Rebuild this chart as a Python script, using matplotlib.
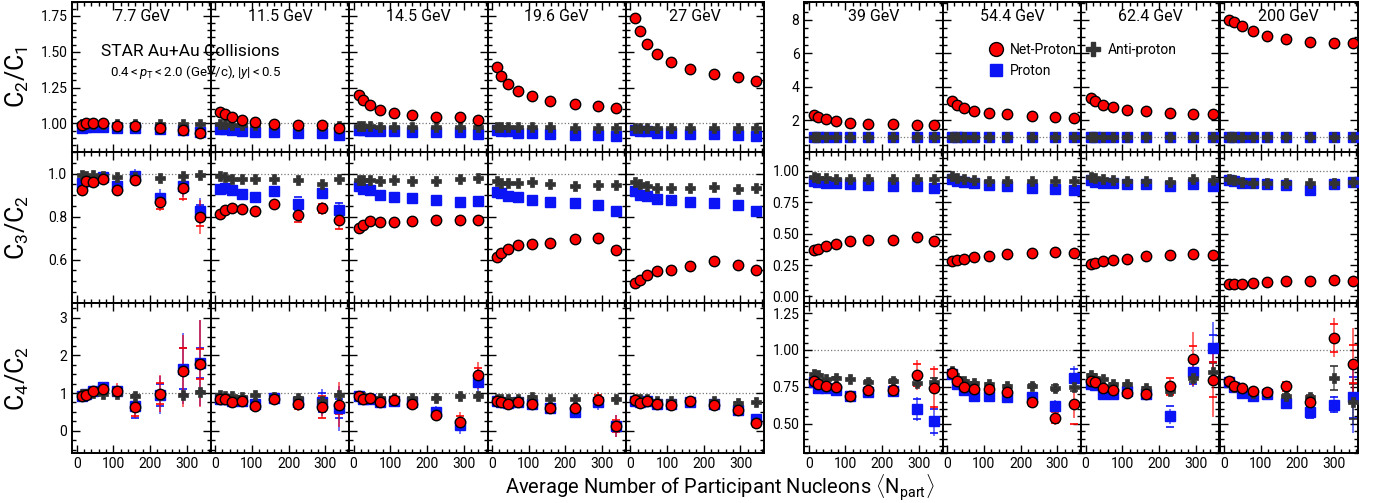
import matplotlib
matplotlib.use("Agg")
import matplotlib.pyplot as plt
from matplotlib.lines import Line2D
from matplotlib.ticker import MultipleLocator, FormatStrFormatter

plt.rcParams['font.family'] = ['Roboto', 'DejaVu Sans']
plt.rcParams['mathtext.fontset'] = 'custom'
plt.rcParams['mathtext.rm'] = 'Roboto'
plt.rcParams['mathtext.it'] = 'Roboto:italic'

ENERGIES = ["7.7 GeV", "11.5 GeV", "14.5 GeV", "19.6 GeV", "27 GeV",
            "39 GeV", "54.4 GeV", "62.4 GeV", "200 GeV"]

# <Npart>, peripheral -> central
NPART = [
    [14, 26, 45, 72, 110, 160, 226, 290, 337],
    [14, 26, 45, 73, 110, 160, 226, 291, 338],
    [14, 26, 46, 73, 110, 160, 225, 289, 340],
    [13, 25, 44, 71, 108, 158, 225, 289, 338],
    [14, 26, 45, 73, 111, 162, 229, 293, 343],
    [14, 26, 46, 74, 112, 162, 230, 294, 342],
    [14, 26, 46, 74, 113, 163, 230, 294, 346],
    [15, 27, 47, 76, 114, 164, 230, 294, 347],
    [15, 28, 49, 78, 117, 168, 234, 299, 351],
]

# C2/C1
C21_NET = [
    [0.99, 1.005, 1.0, 1.0, 0.98, 0.98, 0.97, 0.955, 0.935],
    [1.081, 1.063, 1.042, 1.023, 1.009, 0.995, 0.986, 0.986, 0.965],
    [1.197, 1.162, 1.127, 1.097, 1.074, 1.058, 1.046, 1.042, 1.023],
    [1.394, 1.329, 1.274, 1.227, 1.19, 1.157, 1.134, 1.123, 1.109],
    [1.735, 1.643, 1.557, 1.483, 1.427, 1.378, 1.345, 1.322, 1.299],
    [2.33, 2.19, 2.05, 1.95, 1.85, 1.79, 1.75, 1.71, 1.69],
    [3.18, 2.94, 2.74, 2.58, 2.45, 2.35, 2.25, 2.19, 2.15],
    [3.32, 3.14, 2.94, 2.78, 2.64, 2.54, 2.45, 2.39, 2.37],
    [7.99, 7.89, 7.63, 7.34, 7.04, 6.84, 6.70, 6.64, 6.64],
]
C21_PRO = [
    [0.965, 0.975, 0.975, 0.978, 0.968, 0.968, 0.962, 0.952, 0.94],
    [0.958, 0.958, 0.954, 0.95, 0.943, 0.94, 0.933, 0.933, 0.92],
    [0.955, 0.955, 0.95, 0.945, 0.945, 0.94, 0.94, 0.94, 0.925],
    [0.955, 0.95, 0.945, 0.935, 0.93, 0.925, 0.92, 0.92, 0.912],
    [0.955, 0.95, 0.945, 0.935, 0.933, 0.928, 0.924, 0.92, 0.912],
    [0.99, 0.99, 0.99, 0.985, 0.985, 0.985, 0.98, 0.98, 0.98],
    [0.99, 0.99, 0.985, 0.985, 0.98, 0.98, 0.98, 0.975, 0.975],
    [0.99, 0.99, 0.985, 0.985, 0.98, 0.98, 0.98, 0.975, 0.975],
    [0.99, 0.99, 0.985, 0.985, 0.98, 0.98, 0.98, 0.975, 0.975],
]
C21_ANTI = [
    [0.998, 0.998, 0.998, 0.998, 0.998, 0.997, 0.997, 0.997, 0.997],
    [0.995, 0.995, 0.99, 0.99, 0.99, 0.99, 0.985, 0.985, 0.98],
    [0.98, 0.98, 0.98, 0.978, 0.978, 0.978, 0.978, 0.978, 0.975],
    [0.975, 0.975, 0.975, 0.972, 0.972, 0.972, 0.97, 0.97, 0.97],
    [0.97, 0.97, 0.968, 0.968, 0.968, 0.968, 0.968, 0.968, 0.968],
    [0.995, 0.995, 0.994, 0.994, 0.994, 0.993, 0.993, 0.993, 0.993],
    [0.995, 0.995, 0.994, 0.994, 0.994, 0.993, 0.993, 0.993, 0.993],
    [0.995, 0.995, 0.994, 0.994, 0.994, 0.993, 0.993, 0.993, 0.993],
    [0.995, 0.995, 0.994, 0.994, 0.994, 0.993, 0.993, 0.993, 0.993],
]

# C3/C2
C32_NET = [
    [0.926, 0.964, 0.960, 0.977, 0.922, 0.972, 0.867, 0.933, 0.798],
    [0.814, 0.829, 0.839, 0.836, 0.825, 0.859, 0.806, 0.839, 0.783],
    [0.747, 0.763, 0.780, 0.774, 0.777, 0.778, 0.783, 0.783, 0.783],
    [0.611, 0.631, 0.650, 0.670, 0.673, 0.678, 0.696, 0.701, 0.643],
    [0.491, 0.504, 0.530, 0.546, 0.553, 0.572, 0.592, 0.577, 0.553],
    [0.368, 0.381, 0.40, 0.419, 0.44, 0.448, 0.453, 0.472, 0.445],
    [0.285, 0.288, 0.299, 0.312, 0.325, 0.339, 0.347, 0.355, 0.347],
    [0.259, 0.267, 0.28, 0.288, 0.299, 0.32, 0.328, 0.339, 0.328],
    [0.101, 0.101, 0.101, 0.107, 0.115, 0.125, 0.12, 0.128, 0.12],
]
C32_PRO = [
    [0.957, 0.964, 0.969, 0.984, 0.941, 0.99, 0.887, 0.941, 0.825],
    [0.93, 0.932, 0.926, 0.905, 0.89, 0.92, 0.86, 0.91, 0.83],
    [0.941, 0.930, 0.922, 0.902, 0.891, 0.885, 0.879, 0.867, 0.871],
    [0.915, 0.910, 0.898, 0.891, 0.879, 0.868, 0.864, 0.856, 0.825],
    [0.918, 0.902, 0.898, 0.884, 0.879, 0.868, 0.864, 0.853, 0.825],
    [0.92, 0.912, 0.907, 0.901, 0.899, 0.888, 0.88, 0.88, 0.861],
    [0.939, 0.92, 0.912, 0.901, 0.888, 0.88, 0.867, 0.853, 0.845],
    [0.925, 0.915, 0.907, 0.901, 0.893, 0.893, 0.88, 0.899, 0.88],
    [0.928, 0.92, 0.907, 0.901, 0.893, 0.888, 0.848, 0.893, 0.912],
]
C32_ANTI = [
    [0.995, 0.99, 0.995, 0.99, 0.985, 0.985, 0.978, 0.988, 0.995],
    [0.988, 0.983, 0.977, 0.977, 0.977, 0.975, 0.969, 0.953, 0.975],
    [0.969, 0.969, 0.969, 0.964, 0.969, 0.967, 0.964, 0.975, 0.980],
    [0.964, 0.957, 0.957, 0.957, 0.961, 0.952, 0.944, 0.949, 0.949],
    [0.960, 0.952, 0.941, 0.933, 0.933, 0.933, 0.936, 0.929, 0.933],
    [0.952, 0.947, 0.941, 0.933, 0.933, 0.933, 0.939, 0.939, 0.939],
    [0.96, 0.947, 0.933, 0.925, 0.92, 0.92, 0.92, 0.92, 0.92],
    [0.952, 0.941, 0.933, 0.928, 0.92, 0.92, 0.915, 0.933, 0.925],
    [0.933, 0.925, 0.915, 0.907, 0.907, 0.907, 0.907, 0.907, 0.915],
]
C32_NET_STAT = [
    [0.01, 0.01, 0.01, 0.01, 0.015, 0.02, 0.04, 0.06, 0.08],
    [0.005, 0.005, 0.005, 0.01, 0.01, 0.01, 0.02, 0.03, 0.04],
    [0.005, 0.005, 0.005, 0.005, 0.005, 0.005, 0.01, 0.015, 0.02],
    [0.005, 0.005, 0.005, 0.005, 0.005, 0.005, 0.005, 0.01, 0.015],
    [0.005, 0.005, 0.005, 0.005, 0.005, 0.005, 0.005, 0.005, 0.01],
    [0.005, 0.005, 0.005, 0.005, 0.005, 0.005, 0.005, 0.005, 0.01],
    [0.005, 0.005, 0.005, 0.005, 0.005, 0.005, 0.005, 0.005, 0.01],
    [0.005, 0.005, 0.005, 0.005, 0.005, 0.005, 0.005, 0.005, 0.01],
    [0.005, 0.005, 0.005, 0.005, 0.005, 0.005, 0.005, 0.005, 0.01],
]
C32_NET_SYS = [
    [0.01, 0.01, 0.01, 0.01, 0.01, 0.015, 0.03, 0.05, 0.04],
    [0.005, 0.005, 0.005, 0.005, 0.005, 0.01, 0.03, 0.02, 0.04],
    [0.005, 0.005, 0.005, 0.005, 0.005, 0.005, 0.01, 0.015, 0.01],
    [0.005, 0.005, 0.005, 0.005, 0.005, 0.005, 0.005, 0.01, 0.015],
    [0.005, 0.005, 0.005, 0.005, 0.005, 0.005, 0.005, 0.005, 0.01],
    [0.003, 0.003, 0.003, 0.003, 0.003, 0.003, 0.003, 0.003, 0.005],
    [0.003, 0.003, 0.003, 0.003, 0.003, 0.003, 0.003, 0.003, 0.005],
    [0.003, 0.003, 0.003, 0.003, 0.003, 0.003, 0.003, 0.003, 0.005],
    [0.003, 0.003, 0.003, 0.003, 0.003, 0.003, 0.003, 0.003, 0.005],
]
C32_PRO_STAT = [
    [0.01, 0.01, 0.01, 0.01, 0.015, 0.03, 0.04, 0.05, 0.06],
    [0.005, 0.005, 0.005, 0.01, 0.01, 0.01, 0.02, 0.03, 0.04],
    [0.005, 0.005, 0.005, 0.005, 0.005, 0.005, 0.01, 0.015, 0.02],
    [0.005, 0.005, 0.005, 0.005, 0.005, 0.005, 0.005, 0.01, 0.015],
    [0.005, 0.005, 0.005, 0.005, 0.005, 0.005, 0.005, 0.005, 0.01],
    [0.005, 0.005, 0.005, 0.005, 0.005, 0.005, 0.005, 0.005, 0.01],
    [0.005, 0.005, 0.005, 0.005, 0.005, 0.005, 0.005, 0.005, 0.01],
    [0.005, 0.005, 0.005, 0.005, 0.005, 0.005, 0.005, 0.005, 0.01],
    [0.005, 0.005, 0.005, 0.005, 0.005, 0.005, 0.01, 0.005, 0.01],
]
C32_PRO_SYS = [
    [0.01, 0.01, 0.01, 0.01, 0.01, 0.015, 0.02, 0.02, 0.03],
    [0.005, 0.005, 0.005, 0.005, 0.005, 0.01, 0.03, 0.02, 0.035],
    [0.005, 0.005, 0.005, 0.005, 0.005, 0.005, 0.01, 0.015, 0.01],
    [0.005, 0.005, 0.005, 0.005, 0.005, 0.005, 0.005, 0.01, 0.015],
    [0.005, 0.005, 0.005, 0.005, 0.005, 0.005, 0.005, 0.005, 0.01],
    [0.003, 0.003, 0.003, 0.003, 0.003, 0.003, 0.003, 0.003, 0.005],
    [0.003, 0.003, 0.003, 0.003, 0.003, 0.003, 0.003, 0.003, 0.005],
    [0.003, 0.003, 0.003, 0.003, 0.003, 0.003, 0.003, 0.003, 0.005],
    [0.003, 0.003, 0.003, 0.003, 0.003, 0.003, 0.01, 0.003, 0.005],
]

# C4/C2
C42_NET = [
    [0.916, 0.96, 1.048, 1.119, 1.057, 0.634, 0.987, 1.586, 1.78],
    [0.837, 0.855, 0.767, 0.793, 0.661, 0.855, 0.722, 0.634, 0.696],
    [0.925, 0.837, 0.872, 0.767, 0.811, 0.722, 0.414, 0.238, 1.471],
    [0.784, 0.767, 0.722, 0.767, 0.722, 0.59, 0.59, 0.828, 0.123],
    [0.811, 0.749, 0.784, 0.705, 0.678, 0.784, 0.696, 0.546, 0.194],
    [0.793, 0.769, 0.753, 0.748, 0.685, 0.726, 0.726, 0.831, 0.742],
    [0.847, 0.791, 0.748, 0.737, 0.733, 0.712, 0.647, 0.542, 0.636],
    [0.793, 0.78, 0.742, 0.73, 0.708, 0.699, 0.753, 0.939, 0.798],
    [0.791, 0.757, 0.742, 0.719, 0.717, 0.753, 0.645, 1.083, 0.906],
]
C42_PRO = [
    [0.92, 0.97, 1.05, 1.15, 1.05, 0.65, 0.95, 1.65, 1.80],
    [0.85, 0.85, 0.8, 0.8, 0.72, 0.88, 0.75, 0.75, 0.6],
    [0.93, 0.84, 0.85, 0.77, 0.78, 0.75, 0.5, 0.15, 1.3],
    [0.78, 0.77, 0.73, 0.76, 0.7, 0.6, 0.5, 0.75, 0.12],
    [0.8, 0.77, 0.78, 0.72, 0.7, 0.75, 0.72, 0.55, 0.3],
    [0.78, 0.74, 0.74, 0.73, 0.685, 0.715, 0.72, 0.60, 0.52],
    [0.84, 0.77, 0.73, 0.69, 0.69, 0.68, 0.68, 0.62, 0.81],
    [0.77, 0.76, 0.70, 0.70, 0.72, 0.70, 0.55, 0.85, 1.01],
    [0.78, 0.75, 0.71, 0.69, 0.70, 0.64, 0.58, 0.63, 0.68],
]
C42_ANTI = [
    [0.97, 0.98, 1.0, 0.98, 0.98, 0.93, 0.95, 0.95, 1.02],
    [0.95, 0.93, 0.92, 0.9, 0.95, 0.9, 0.88, 0.8, 0.95],
    [0.93, 0.9, 0.88, 0.88, 0.87, 0.87, 0.87, 0.93, 0.92],
    [0.85, 0.84, 0.85, 0.84, 0.9, 0.83, 0.83, 0.83, 0.84],
    [0.85, 0.85, 0.83, 0.8, 0.8, 0.8, 0.78, 0.73, 0.75],
    [0.835, 0.83, 0.80, 0.81, 0.80, 0.785, 0.79, 0.775, 0.78],
    [0.86, 0.81, 0.79, 0.775, 0.77, 0.755, 0.755, 0.74, 0.75],
    [0.83, 0.81, 0.80, 0.77, 0.77, 0.74, 0.72, 0.81, 0.85],
    [0.78, 0.75, 0.74, 0.71, 0.71, 0.69, 0.68, 0.81, 0.65],
]
C42_NET_STAT = [
    [0.05, 0.05, 0.06, 0.1, 0.2, 0.3, 0.5, 0.95, 1.15],
    [0.04, 0.04, 0.05, 0.06, 0.08, 0.15, 0.2, 0.3, 0.6],
    [0.03, 0.03, 0.04, 0.05, 0.06, 0.1, 0.15, 0.25, 0.35],
    [0.03, 0.03, 0.03, 0.04, 0.05, 0.07, 0.12, 0.2, 0.3],
    [0.02, 0.02, 0.03, 0.03, 0.04, 0.05, 0.07, 0.1, 0.15],
    [0.01, 0.01, 0.01, 0.015, 0.02, 0.03, 0.04, 0.1, 0.15],
    [0.01, 0.01, 0.01, 0.015, 0.02, 0.02, 0.03, 0.05, 0.1],
    [0.01, 0.01, 0.015, 0.02, 0.02, 0.03, 0.05, 0.18, 0.25],
    [0.01, 0.01, 0.01, 0.01, 0.015, 0.03, 0.04, 0.13, 0.24],
]
C42_NET_SYS = [
    [0.03, 0.03, 0.04, 0.06, 0.1, 0.25, 0.27, 0.6, 0.4],
    [0.02, 0.02, 0.03, 0.04, 0.05, 0.08, 0.15, 0.3, 0.25],
    [0.02, 0.02, 0.02, 0.03, 0.04, 0.06, 0.1, 0.15, 0.2],
    [0.02, 0.02, 0.02, 0.02, 0.03, 0.04, 0.06, 0.12, 0.15],
    [0.01, 0.01, 0.02, 0.02, 0.02, 0.03, 0.04, 0.06, 0.1],
    [0.005, 0.005, 0.01, 0.01, 0.015, 0.02, 0.03, 0.075, 0.13],
    [0.005, 0.005, 0.01, 0.01, 0.01, 0.015, 0.03, 0.04, 0.14],
    [0.005, 0.005, 0.01, 0.01, 0.02, 0.02, 0.06, 0.09, 0.12],
    [0.005, 0.005, 0.01, 0.01, 0.02, 0.03, 0.04, 0.095, 0.13],
]
C42_PRO_STAT = [
    [0.05, 0.05, 0.06, 0.15, 0.15, 0.3, 0.5, 0.95, 1.15],
    [0.04, 0.04, 0.05, 0.06, 0.08, 0.15, 0.2, 0.35, 0.6],
    [0.03, 0.03, 0.04, 0.05, 0.06, 0.1, 0.15, 0.25, 0.35],
    [0.03, 0.03, 0.03, 0.04, 0.05, 0.07, 0.12, 0.2, 0.3],
    [0.02, 0.02, 0.03, 0.03, 0.04, 0.05, 0.07, 0.1, 0.15],
    [0.01, 0.01, 0.01, 0.015, 0.02, 0.03, 0.04, 0.08, 0.1],
    [0.01, 0.01, 0.01, 0.015, 0.02, 0.02, 0.03, 0.04, 0.08],
    [0.01, 0.01, 0.015, 0.02, 0.02, 0.03, 0.05, 0.1, 0.18],
    [0.01, 0.01, 0.01, 0.01, 0.015, 0.03, 0.04, 0.06, 0.24],
]
C42_PRO_SYS = [
    [0.03, 0.03, 0.04, 0.1, 0.1, 0.3, 0.3, 0.55, 0.4],
    [0.02, 0.02, 0.03, 0.04, 0.05, 0.08, 0.15, 0.25, 0.25],
    [0.02, 0.02, 0.02, 0.03, 0.04, 0.06, 0.1, 0.12, 0.15],
    [0.02, 0.02, 0.02, 0.02, 0.03, 0.04, 0.06, 0.1, 0.12],
    [0.01, 0.01, 0.02, 0.02, 0.02, 0.03, 0.04, 0.05, 0.08],
    [0.005, 0.005, 0.01, 0.01, 0.015, 0.02, 0.03, 0.07, 0.08],
    [0.005, 0.005, 0.01, 0.01, 0.01, 0.015, 0.02, 0.03, 0.06],
    [0.005, 0.005, 0.01, 0.01, 0.02, 0.02, 0.07, 0.08, 0.09],
    [0.005, 0.005, 0.01, 0.01, 0.02, 0.03, 0.04, 0.05, 0.14],
]
C42_ANTI_STAT = [
    [0.02, 0.02, 0.02, 0.03, 0.03, 0.04, 0.05, 0.06, 0.08],
    [0.02, 0.02, 0.02, 0.03, 0.03, 0.04, 0.05, 0.06, 0.08],
    [0.01, 0.01, 0.02, 0.02, 0.02, 0.03, 0.03, 0.04, 0.05],
    [0.01, 0.01, 0.02, 0.02, 0.02, 0.03, 0.03, 0.04, 0.05],
    [0.01, 0.01, 0.01, 0.02, 0.02, 0.02, 0.03, 0.03, 0.04],
    [0.005, 0.005, 0.005, 0.01, 0.01, 0.01, 0.015, 0.02, 0.03],
    [0.005, 0.005, 0.005, 0.01, 0.01, 0.01, 0.015, 0.02, 0.03],
    [0.005, 0.005, 0.005, 0.01, 0.01, 0.01, 0.015, 0.05, 0.07],
    [0.005, 0.005, 0.005, 0.01, 0.01, 0.01, 0.02, 0.08, 0.15],
]
C42_ANTI_SYS = [
    [0.01, 0.01, 0.01, 0.01, 0.01, 0.02, 0.02, 0.03, 0.03],
    [0.01, 0.01, 0.01, 0.01, 0.01, 0.02, 0.02, 0.03, 0.03],
    [0.01, 0.01, 0.01, 0.01, 0.01, 0.01, 0.02, 0.02, 0.02],
    [0.01, 0.01, 0.01, 0.01, 0.01, 0.01, 0.02, 0.02, 0.02],
    [0.005, 0.005, 0.005, 0.01, 0.01, 0.01, 0.01, 0.02, 0.02],
    [0.005, 0.005, 0.005, 0.005, 0.005, 0.01, 0.015, 0.02, 0.03],
    [0.005, 0.005, 0.005, 0.005, 0.005, 0.01, 0.015, 0.02, 0.03],
    [0.005, 0.005, 0.005, 0.005, 0.005, 0.01, 0.015, 0.03, 0.06],
    [0.005, 0.005, 0.005, 0.005, 0.005, 0.01, 0.015, 0.08, 0.12],
]

ROW_LABELS = [r'$\mathregular{C_2/C_1}$', r'$\mathregular{C_3/C_2}$', r'$\mathregular{C_4/C_2}$']

# y ranges, ticks: (left group, right group)
YLIMS = [((0.80, 1.85), (0.1, 9.1)),
         ((0.40, 1.10), (-0.05, 1.15)),
         ((-0.60, 3.40), (0.30, 1.32))]
YMAJOR = [((1.0, 1.25, 1.5, 1.75), (2, 4, 6, 8)),
          ((0.6, 0.8, 1.0), (0.0, 0.25, 0.5, 0.75, 1.0)),
          ((0, 1, 2, 3), (0.5, 0.75, 1.0, 1.25))]
YMINOR = [(0.05, 0.5), (0.05, 0.05), (0.25, 0.05)]
YFMT = [('%.2f', '%d'), ('%.1f', '%.2f'), ('%d', '%.2f')]

RED = '#ff0000'
BLUE = '#0a14f5'
GRAY = '#333333'

W, H = 1384, 503
fig = plt.figure(figsize=(W / 100, H / 100), dpi=100)

group_x0 = [72.3, 804.3]
pw = 138.4
top = 1.5
rh = 150.6

rows = [
    (C21_NET, C21_PRO, C21_ANTI, None, None, None, None, None, None),
    (C32_NET, C32_PRO, C32_ANTI, C32_NET_STAT, C32_NET_SYS, C32_PRO_STAT, C32_PRO_SYS, None, None),
    (C42_NET, C42_PRO, C42_ANTI, C42_NET_STAT, C42_NET_SYS, C42_PRO_STAT, C42_PRO_SYS,
     C42_ANTI_STAT, C42_ANTI_SYS),
]


def draw_err(ax, x, y, stat, sys, color):
    if stat is not None:
        ax.errorbar(x, y, yerr=stat, fmt='none', ecolor=color, elinewidth=1.1,
                    alpha=0.75, zorder=2)
    if sys is not None:
        ax.errorbar(x, y, yerr=sys, fmt='none', ecolor=color, elinewidth=0,
                    capsize=3, capthick=1.2, zorder=2)


for r in range(3):
    net, pro, anti, ns, nsy, ps, psy, ast, asy = rows[r]
    for i in range(9):
        g = 0 if i < 5 else 1
        col = i if i < 5 else i - 5
        x0 = group_x0[g] + col * pw
        y0 = H - top - (r + 1) * rh
        ax = fig.add_axes([x0 / W, y0 / H, pw / W, rh / H])
        x = NPART[i]

        ax.axhline(1.0, color='#777777', ls=':', lw=0.9, zorder=1)

        draw_err(ax, x, pro[i], ps[i] if ps else None, psy[i] if psy else None, BLUE)
        draw_err(ax, x, anti[i], ast[i] if ast else None, asy[i] if asy else None, GRAY)
        draw_err(ax, x, net[i], ns[i] if ns else None, nsy[i] if nsy else None, RED)

        ax.plot(x, pro[i], 's', color=BLUE, ms=6.5, mec=BLUE, zorder=3)
        ax.plot(x, anti[i], 'P', color=GRAY, ms=7.5, mec=GRAY, mew=0.5, zorder=4)
        ax.plot(x, net[i], 'o', color=RED, ms=7.5, mec='black', mew=1.0, zorder=5)

        ax.set_xlim(-12, 365)
        ax.set_ylim(*YLIMS[r][g])
        ax.set_xticks([0, 100, 200, 300])
        ax.xaxis.set_minor_locator(MultipleLocator(20))
        ax.set_yticks(YMAJOR[r][g])
        ax.yaxis.set_minor_locator(MultipleLocator(YMINOR[r][g]))
        ax.yaxis.set_major_formatter(FormatStrFormatter(YFMT[r][g]))
        ax.tick_params(which='both', direction='in', top=True, right=True,
                       labelsize=10, colors='black', width=1.0)
        ax.tick_params(which='major', length=6)
        ax.tick_params(which='minor', length=3)
        ax.tick_params(axis='x', pad=3)
        for s in ax.spines.values():
            s.set_linewidth(1.4)
        if col != 0:
            ax.tick_params(labelleft=False)
        if r != 2:
            ax.tick_params(labelbottom=False)
        if r == 0:
            ax.text(0.5, 0.90, ENERGIES[i], transform=ax.transAxes, ha='center',
                    va='center', fontsize=11.5)
        if i == 0:
            ax.set_ylabel(ROW_LABELS[r], fontsize=18)
            ax.yaxis.set_label_coords(-0.30, 0.5)

fig.text(190 / W, 1 - 51 / H, 'STAR Au+Au Collisions', ha='center', va='center', fontsize=12.5)
fig.text(196 / W, 1 - 72 / H, r'$0.4 < p_\mathrm{T} < 2.0$ (GeV/c), $|y| < 0.5$',
         ha='center', va='center', fontsize=9.5)

fig.text(720 / W, 1 - 488 / H,
         r'Average Number of Participant Nucleons $\langle\mathregular{N_{part}}\rangle$',
         ha='center', va='center', fontsize=14.5)

handles = [
    Line2D([], [], ls='none', marker='o', color=RED, mec='black', ms=10),
    Line2D([], [], ls='none', marker='s', color=BLUE, mec=BLUE, ms=9),
    Line2D([], [], ls='none', marker='P', color=GRAY, mec=GRAY, ms=10),
]
fig.legend(handles, ['Net-Proton', 'Proton', 'Anti-proton'], ncol=2,
           loc='upper left', bbox_to_anchor=(982 / W, 1 - 36 / H), frameon=False,
           fontsize=10, handlelength=1.0, handletextpad=0.5, columnspacing=0.7,
           labelspacing=0.5, borderpad=0)

fig.savefig('out.png', dpi=100)
